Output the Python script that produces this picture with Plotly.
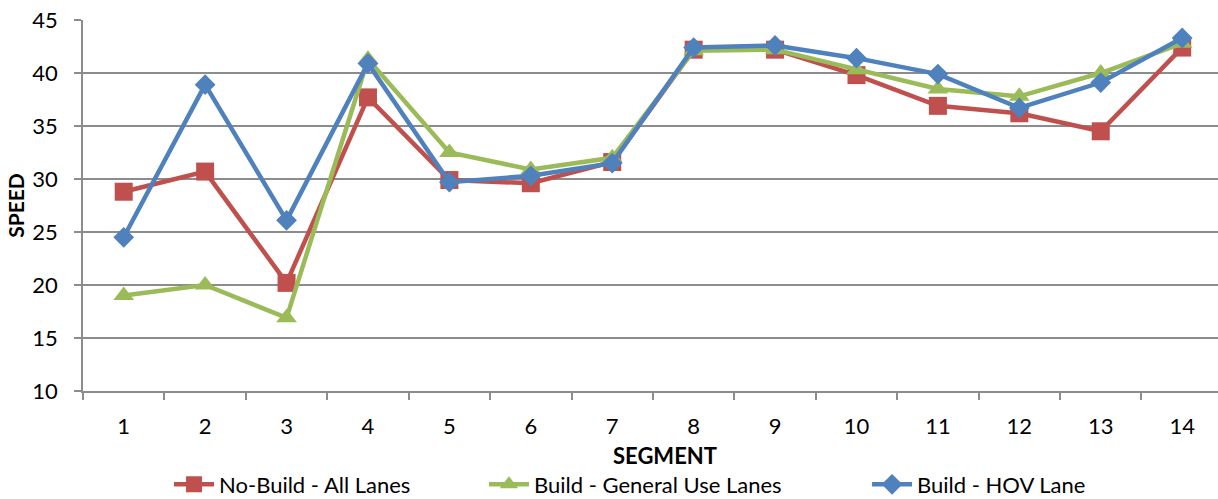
import plotly.graph_objects as go

# Segment numbers along the corridor
segments = ["1", "2", "3", "4", "5", "6", "7", "8", "9", "10", "11", "12", "13", "14"]

# Average speed per segment for each scenario
no_build_all_lanes = [28.8, 30.7, 20.2, 37.7, 29.9, 29.6, 31.6, 42.2, 42.2, 39.8, 36.9, 36.2, 34.5, 42.4]
build_general_use = [19.0, 20.0, 16.9, 41.3, 32.5, 30.9, 32.0, 42.1, 42.2, 40.3, 38.5, 37.8, 40.0, 42.8]
build_hov_lane = [24.5, 38.9, 26.1, 40.9, 29.7, 30.3, 31.5, 42.4, 42.6, 41.4, 39.9, 36.7, 39.1, 43.3]

y_ticks = [10, 15, 20, 25, 30, 35, 40, 45]

RED = "#C0504D"
GREEN = "#9BBB59"
BLUE = "#4F81BD"
GRID = "#8C8C8C"
FONT = "Lato"

fig = go.Figure()
fig.add_trace(go.Scatter(
    x=segments, y=no_build_all_lanes, name="No-Build - All Lanes",
    mode="lines+markers", legend="legend",
    line=dict(color=RED, width=4.5),
    marker=dict(symbol="square", size=18, color=RED),
))
fig.add_trace(go.Scatter(
    x=segments, y=build_general_use, name="Build - General Use Lanes",
    mode="lines+markers", legend="legend2",
    line=dict(color=GREEN, width=4.5),
    marker=dict(symbol="triangle-up", size=18, color=GREEN),
))
fig.add_trace(go.Scatter(
    x=segments, y=build_hov_lane, name="Build - HOV Lane",
    mode="lines+markers", legend="legend3",
    line=dict(color=BLUE, width=4.5),
    marker=dict(symbol="diamond", size=16, color=BLUE),
))

# One legend box per series, laid out in a single row under the axis title
legend_style = dict(
    orientation="h", xanchor="left", y=-0.252, yanchor="middle",
    font=dict(family=FONT, size=22, color="black"),
    itemwidth=40, bgcolor="rgba(0,0,0,0)",
)

fig.update_layout(
    width=1218, height=499,
    margin=dict(l=83, r=0, t=20, b=108, autoexpand=False),
    paper_bgcolor="white", plot_bgcolor="white",
    font=dict(family=FONT, size=21, color="black"),
    showlegend=True,
    legend=dict(x=0.0758, **legend_style),
    legend2=dict(x=0.3533, **legend_style),
    legend3=dict(x=0.6908, **legend_style),
    annotations=[
        dict(text="<b>SEGMENT</b>", xref="paper", yref="paper", x=0.513, y=-0.175,
             xanchor="center", yanchor="middle", showarrow=False,
             font=dict(family=FONT, size=22, color="black")),
    ],
)

fig.update_xaxes(
    type="category", range=[-0.5, 13.44], automargin=False,
    tickson="boundaries", ticks="outside", ticklen=7, tickcolor=GRID, tickwidth=1.5,
    showline=True, linecolor=GRID, linewidth=1.5,
    showgrid=False, zeroline=False,
    tickfont=dict(family=FONT, size=22, color="black"),
    ticklabelstandoff=15,
)
fig.update_yaxes(
    range=[10, 45], tickvals=y_ticks, automargin=False,
    ticks="outside", ticklen=7, tickcolor=GRID, tickwidth=1.5,
    showline=True, linecolor=GRID, linewidth=1.5,
    showgrid=True, gridcolor=GRID, gridwidth=1.5, zeroline=False,
    tickfont=dict(family=FONT, size=22, color="black"),
    ticklabelstandoff=12,
    title=dict(text="<b>SPEED</b>", font=dict(family=FONT, size=21, color="black"), standoff=2),
)

fig.write_html("out.html")
